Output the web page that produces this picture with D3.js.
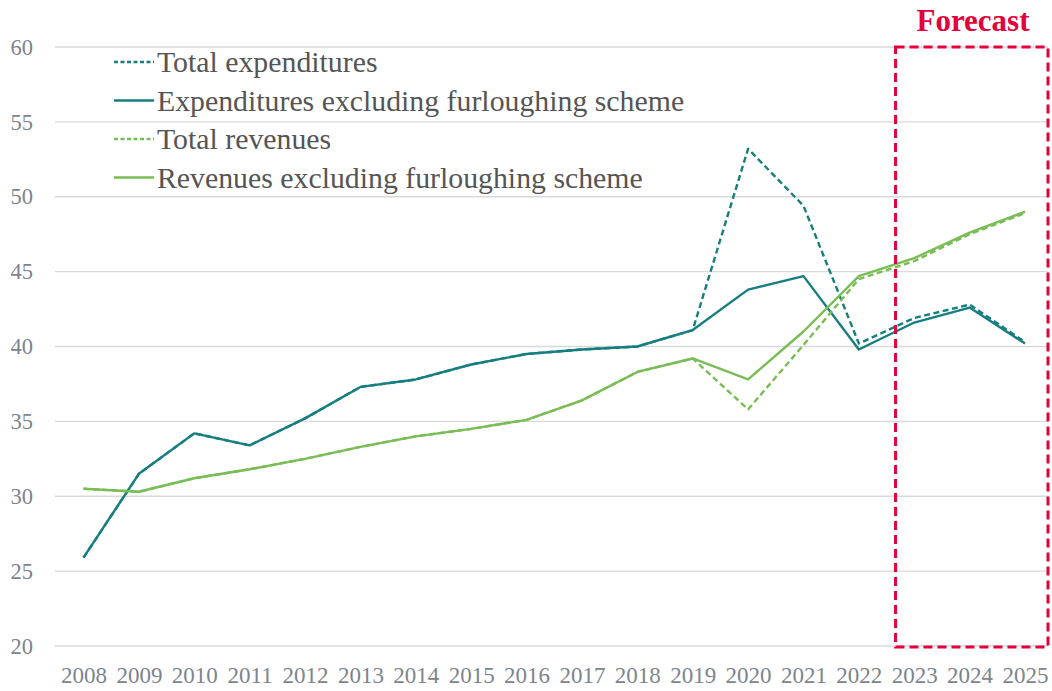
<!DOCTYPE html>
<html>
<head>
<meta charset="utf-8">
<script src="https://cdn.jsdelivr.net/npm/d3@7"></script>
<style>
  html, body { margin: 0; padding: 0; background: #ffffff; }
  svg { display: block; }
</style>
</head>
<body>
<svg id="chart" width="1052" height="691"></svg>
<script>
// Years on the horizontal axis
const years = [2008, 2009, 2010, 2011, 2012, 2013, 2014, 2015, 2016,
               2017, 2018, 2019, 2020, 2021, 2022, 2023, 2024, 2025];

// Series values (% of GDP)
const totalExpenditures = [25.9, 31.5, 34.2, 33.4, 35.2, 37.3, 37.8, 38.8, 39.5,
                           39.8, 40.0, 41.1, 53.2, 49.4, 40.2, 41.9, 42.8, 40.3];
const expendituresExFurlough = [25.9, 31.5, 34.2, 33.4, 35.2, 37.3, 37.8, 38.8, 39.5,
                                39.8, 40.0, 41.1, 43.8, 44.7, 39.8, 41.6, 42.6, 40.2];
const totalRevenues = [30.5, 30.3, 31.2, 31.8, 32.5, 33.3, 34.0, 34.5, 35.1,
                       36.4, 38.3, 39.2, 35.8, 40.1, 44.5, 45.7, 47.5, 48.9];
const revenuesExFurlough = [30.5, 30.3, 31.2, 31.8, 32.5, 33.3, 34.0, 34.5, 35.1,
                            36.4, 38.3, 39.2, 37.8, 41.0, 44.7, 45.9, 47.6, 49.0];

// Axis ticks and labels
const yTicks = [20, 25, 30, 35, 40, 45, 50, 55, 60];
const forecastYears = [2023, 2025];
const forecastLabel = "Forecast";

const seriesNames = [
  "Total expenditures",
  "Expenditures excluding furloughing scheme",
  "Total revenues",
  "Revenues excluding furloughing scheme"
];

const TEAL = "#167e80";
const GREEN = "#79bd55";
const RED = "#e4003b";

const series = [
  { name: seriesNames[0], values: totalExpenditures, color: TEAL, dashed: true },
  { name: seriesNames[1], values: expendituresExFurlough, color: TEAL, dashed: false },
  { name: seriesNames[2], values: totalRevenues, color: GREEN, dashed: true },
  { name: seriesNames[3], values: revenuesExFurlough, color: GREEN, dashed: false }
];

const svg = d3.select("#chart");
const fontFamily = "'Liberation Serif', 'DejaVu Serif', serif";

const gridLeft = 55, gridRight = 1048;
const x = d3.scalePoint().domain(years).range([83.5, 1025]);
const y = d3.scaleLinear().domain([20, 60]).range([646, 47]);

// Horizontal gridlines
svg.append("g")
  .selectAll("line")
  .data(yTicks)
  .join("line")
  .attr("x1", gridLeft)
  .attr("x2", gridRight)
  .attr("y1", d => y(d))
  .attr("y2", d => y(d))
  .attr("stroke", "#d9d9d9")
  .attr("stroke-width", 1.3);

// Y axis labels
const yAxis = d3.axisLeft(y).tickValues(yTicks).tickSize(0).tickPadding(0);
const yg = svg.append("g").attr("transform", "translate(33,0)").call(yAxis);
yg.select(".domain").remove();
yg.selectAll("text")
  .attr("fill", "#7d848d")
  .style("font-family", fontFamily)
  .style("font-size", "22.5px");

// X axis labels
const xAxis = d3.axisBottom(x).tickSize(0).tickPadding(0).tickFormat(d3.format("d"));
const xg = svg.append("g").attr("transform", "translate(0,667)").call(xAxis);
xg.select(".domain").remove();
xg.selectAll("text")
  .attr("fill", "#7d848d")
  .attr("dy", "0.71em")
  .style("font-family", fontFamily)
  .style("font-size", "23px");

// Lines
const line = d3.line()
  .x((d, i) => x(years[i]))
  .y(d => y(d));

svg.append("g")
  .selectAll("path")
  .data(series)
  .join("path")
  .attr("d", d => line(d.values))
  .attr("fill", "none")
  .attr("stroke", d => d.color)
  .attr("stroke-width", 2.4)
  .attr("stroke-linejoin", "round")
  .attr("stroke-dasharray", d => d.dashed ? "6,3.5" : null);

// Forecast frame
const bandHalf = x.step() / 2;
const fx0 = x(forecastYears[0]) - bandHalf + 9;
const fx1 = gridRight;
svg.append("rect")
  .attr("x", fx0)
  .attr("y", y(60))
  .attr("width", fx1 - fx0)
  .attr("height", y(20) - y(60) + 1)
  .attr("fill", "none")
  .attr("stroke", RED)
  .attr("stroke-width", 3)
  .attr("stroke-dasharray", "9,5");

svg.append("text")
  .attr("x", 973)
  .attr("y", 31)
  .attr("text-anchor", "middle")
  .attr("fill", RED)
  .style("font-family", fontFamily)
  .style("font-weight", "bold")
  .style("font-size", "31px")
  .text(forecastLabel);

// Legend
const legend = svg.append("g").attr("transform", "translate(114,62)");
const rows = legend.selectAll("g")
  .data(series)
  .join("g")
  .attr("transform", (d, i) => `translate(0,${i * 38.5})`);

rows.append("line")
  .attr("x1", 0)
  .attr("x2", 40)
  .attr("y1", 0)
  .attr("y2", 0)
  .attr("stroke", d => d.color)
  .attr("stroke-width", 2.4)
  .attr("stroke-dasharray", d => d.dashed ? "4,2.5" : null);

rows.append("text")
  .attr("x", 43)
  .attr("y", 0)
  .attr("dy", "0.35em")
  .attr("fill", "#555555")
  .style("font-family", fontFamily)
  .style("font-size", "29.8px")
  .text(d => d.name);
</script>
</body>
</html>
